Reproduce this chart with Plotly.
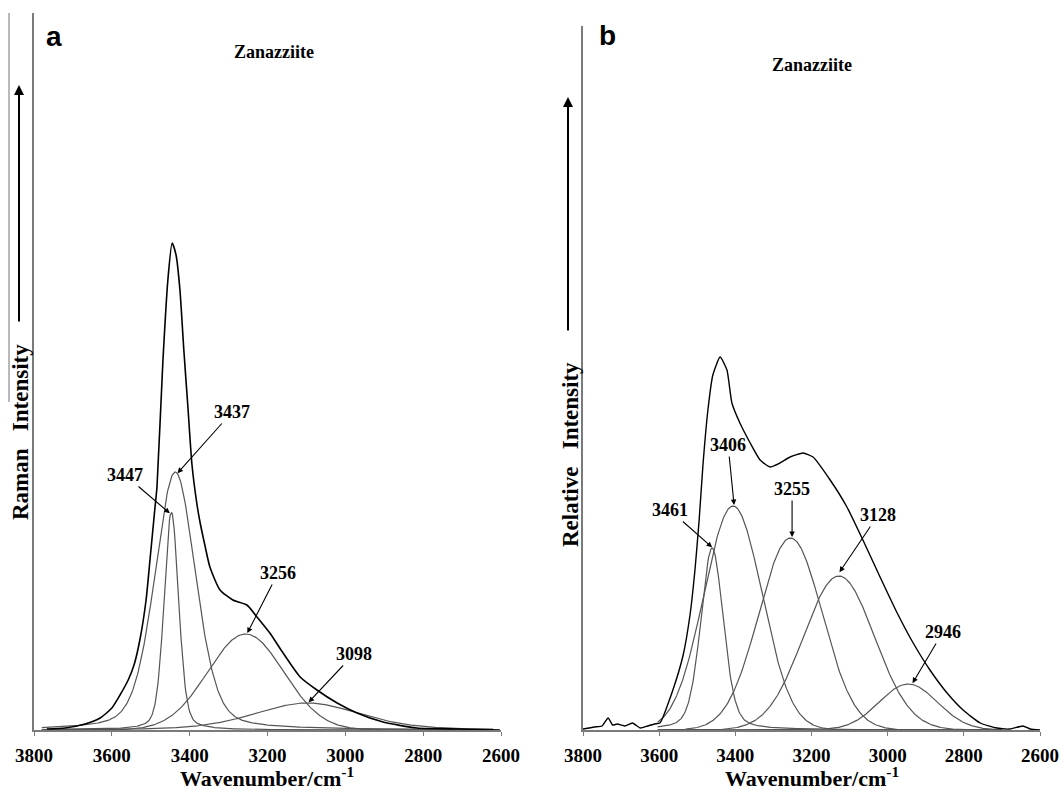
import numpy as np
import plotly.graph_objects as go

# ---------------- data ----------------
# Panel a: Raman spectrum envelope (wavenumber, intensity in arbitrary units)
A_ENV_WN = [3767, 3720, 3669, 3630, 3600, 3579, 3558, 3543, 3528, 3512, 3502, 3489,
            3484, 3469, 3456, 3445, 3435, 3425, 3415, 3404, 3394, 3381, 3373, 3361,
            3348, 3322, 3289, 3253, 3227, 3194, 3160, 3116, 3073, 3021, 2970, 2903,
            2816, 2705, 2603]
A_ENV_INT = [1, 2, 6, 12, 22, 35, 50, 65, 90, 130, 170, 223,
             243, 367, 450, 487, 475, 440, 380, 320, 265, 225, 207, 185,
             163, 140, 130, 125, 113, 97, 77, 53, 40, 27, 17, 8,
             2, 1, 0]
# Panel a fitted bands
A_BAND_LABELS = ["3447", "3437", "3256", "3098"]
A_CENTERS = [3447, 3437, 3256, 3098]
A_HEIGHTS = [218, 258, 96, 27]
A_HWHM = [22, 62, 115, 160]
A_ETA = [0.3, 0.3, 0.0, 0.3]

# Panel b: spectrum envelope
B_ENV_WN = [3800, 3770, 3750, 3734, 3722, 3710, 3690, 3670, 3650, 3630, 3612,
            3598, 3564, 3537, 3519, 3506, 3495, 3485, 3472, 3459, 3440, 3422,
            3409, 3388, 3361, 3335, 3309, 3283, 3256, 3222, 3196, 3151, 3107,
            3065, 3020, 2975, 2933, 2889, 2844, 2802, 2757, 2713, 2679, 2645,
            2626, 2600]
B_ENV_INT = [1, 3, 4, 12, 5, 6, 4, 7, 2, 4, 6,
             7, 40, 75, 115, 160, 210, 265, 320, 355, 373, 360,
             327, 307, 287, 270, 263, 267, 273, 277, 273, 250, 223,
             190, 153, 117, 87, 60, 37, 20, 7, 2, 1, 4,
             1, 0]
# Panel b fitted bands
B_BAND_LABELS = ["3461", "3406", "3255", "3128", "2946"]
B_CENTERS = [3461, 3406, 3255, 3128, 2946]
B_HEIGHTS = [182, 224, 192, 154, 46]
B_HWHM = [35, 90, 98, 110, 90]
B_ETA = [0.3, 0.0, 0.0, 0.0, 0.0]

X_TICKS = [3800, 3600, 3400, 3200, 3000, 2800, 2600]


def band(x, c, h, w, eta):
    u = ((x - c) / w) ** 2
    return h * (eta / (1.0 + u) + (1.0 - eta) * np.exp(-np.log(2) * u))


W, H = 1064, 793
def px(x):
    return x / W
def py(y):
    return (H - y) / H

SERIF = "Liberation Serif"
SANS = "Liberation Sans"
COMP_COLOR = "#555555"
AXIS_COLOR = "#7a7a7a"

fig = go.Figure()

# ---- panel a ----
xa = np.arange(3780, 2619, -2.0)
for c, h, w, e in zip(A_CENTERS, A_HEIGHTS, A_HWHM, A_ETA):
    fig.add_trace(go.Scatter(x=xa, y=band(xa, c, h, w, e), mode="lines",
                             line=dict(color=COMP_COLOR, width=1.2),
                             xaxis="x", yaxis="y", showlegend=False, hoverinfo="skip"))
fig.add_trace(go.Scatter(x=A_ENV_WN, y=A_ENV_INT, mode="lines",
                         line=dict(color="black", width=1.6, shape="spline", smoothing=0.6),
                         xaxis="x", yaxis="y", showlegend=False))

# ---- panel b ----
xb = np.arange(3604, 2699, -2.0)
for c, h, w, e in zip(B_CENTERS, B_HEIGHTS, B_HWHM, B_ETA):
    fig.add_trace(go.Scatter(x=xb, y=band(xb, c, h, w, e), mode="lines",
                             line=dict(color=COMP_COLOR, width=1.2),
                             xaxis="x2", yaxis="y2", showlegend=False, hoverinfo="skip"))
fig.add_trace(go.Scatter(x=B_ENV_WN, y=B_ENV_INT, mode="lines",
                         line=dict(color="black", width=1.4, shape="spline", smoothing=0.5),
                         xaxis="x2", yaxis="y2", showlegend=False))

xaxis_common = dict(range=[3800, 2600], tickvals=X_TICKS, ticktext=[str(t) for t in X_TICKS],
                    showline=True, linecolor=AXIS_COLOR, linewidth=1.5,
                    ticks="outside", ticklen=4, tickcolor=AXIS_COLOR, tickwidth=1.2,
                    showgrid=False, zeroline=False, ticklabelstandoff=3, automargin=False,
                    tickfont=dict(family=SERIF, size=19, color="black", weight="bold"))
yaxis_common = dict(showline=True, linecolor=AXIS_COLOR, linewidth=1.5, ticks="",
                    showticklabels=False, showgrid=False, zeroline=False, automargin=False)

fig.update_layout(
    width=W, height=H, margin=dict(l=0, r=0, t=0, b=0, autoexpand=False),
    paper_bgcolor="white", plot_bgcolor="white",
    xaxis=dict(domain=[px(34), px(501)], anchor="y", **xaxis_common),
    yaxis=dict(domain=[py(730), py(13)], range=[0, 717], anchor="x", **yaxis_common),
    xaxis2=dict(domain=[px(583), px(1040)], anchor="y2", **xaxis_common),
    yaxis2=dict(domain=[py(730), py(26)], range=[0, 704], anchor="x2", **yaxis_common),
)

ann = []
LABEL_FONT = dict(family=SERIF, size=18, color="black", weight="bold")
# band labels with arrows
a_text_pos = [(3566, 255), (3291, 318), (3173, 157), (2978, 76)]
a_tip_pos = [(3449, 216), (3433, 256), (3253, 96), (3096, 27)]
for lab, (tx, ty), (ax_, ay_) in zip(A_BAND_LABELS, a_text_pos, a_tip_pos):
    ann.append(dict(x=ax_, y=ay_, ax=tx, ay=ty, xref="x", yref="y", axref="x", ayref="y",
                    text=lab, showarrow=True, arrowhead=2, arrowsize=1, arrowwidth=1.1,
                    arrowcolor="black", standoff=1, font=LABEL_FONT))
b_text_pos = [(3572, 220), (3419, 285), (3251, 241), (3025, 215), (2855, 98)]
b_tip_pos = [(3459, 182), (3403, 224), (3251, 192), (3128, 157), (2936, 46)]
for lab, (tx, ty), (ax_, ay_) in zip(B_BAND_LABELS, b_text_pos, b_tip_pos):
    ann.append(dict(x=ax_, y=ay_, ax=tx, ay=ty, xref="x2", yref="y2", axref="x2", ayref="y2",
                    text=lab, showarrow=True, arrowhead=2, arrowsize=1, arrowwidth=1.1,
                    arrowcolor="black", standoff=1, font=LABEL_FONT))

def ptext(x, y, text, font, **kw):
    d = dict(x=px(x), y=py(y), xref="paper", yref="paper", text=text, showarrow=False,
             xanchor="center", yanchor="middle", font=font)
    d.update(kw)
    return d

# panel letters
ann.append(ptext(54, 37, "a", dict(family=SANS, size=28, color="black", weight="bold")))
ann.append(ptext(607, 35, "b", dict(family=SANS, size=28, color="black", weight="bold")))
# titles
ann.append(ptext(274, 52, "Zanazziite", dict(family=SERIF, size=18, color="black", weight="bold")))
ann.append(ptext(812, 65, "Zanazziite", dict(family=SERIF, size=18, color="black", weight="bold")))
# x titles
for cx in (267, 812):
    ann.append(ptext(cx, 793, "Wavenumber/cm<sup>-1</sup>",
                     dict(family=SERIF, size=22, color="black", weight="bold"), yanchor="bottom"))
# y titles
ann.append(ptext(20, 432, "Raman&nbsp;&nbsp;&nbsp;Intensity",
                 dict(family=SERIF, size=23, color="black", weight="bold"), textangle=-90))
ann.append(ptext(570, 455, "Relative&nbsp;&nbsp;&nbsp;Intensity",
                 dict(family=SERIF, size=23, color="black", weight="bold"), textangle=-90))
# intensity arrows
ann.append(dict(x=px(19), y=py(85), xref="paper", yref="paper", ax=0, ay=238, text="",
                showarrow=True, arrowhead=2, arrowsize=1, arrowwidth=2, arrowcolor="black"))
ann.append(dict(x=px(568), y=py(97), xref="paper", yref="paper", ax=0, ay=235, text="",
                showarrow=True, arrowhead=2, arrowsize=1, arrowwidth=2, arrowcolor="black"))

fig.update_layout(annotations=ann)

# scanned border line at far left
fig.add_shape(type="line", xref="paper", yref="paper", x0=px(9), x1=px(9), y0=py(13), y1=py(402),
              line=dict(color="#8a8a8a", width=1.2))

fig.write_html("out.html")
